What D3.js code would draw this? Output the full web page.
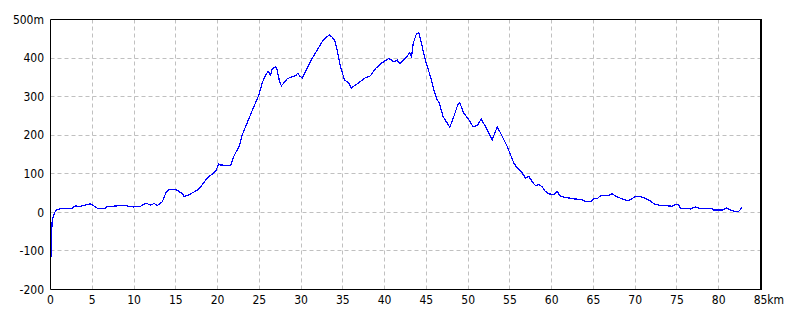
<!DOCTYPE html>
<html>
<head>
<meta charset="utf-8">
<script src="https://cdn.jsdelivr.net/npm/d3@7"></script>
<style>
  body { margin: 0; background: #fff; }
  text { font-family: "Liberation Sans Narrow", "DejaVu Sans Condensed", "Liberation Sans", sans-serif; font-size: 12px; fill: #000; }
</style>
</head>
<body>
<svg id="chart" width="800" height="320"></svg>
<script>
// distance along route (km) and elevation (m)
const distKm = [
  0.05, 0.1, 0.2, 0.45, 0.7, 1.4, 2.6, 3.0, 3.5, 4.0, 4.8, 5.0, 5.6, 6.6, 6.8,
  8.8, 9.9, 10.8, 11.4, 12.0, 12.4, 12.8, 13.4, 13.8, 14.2, 14.8, 15.2, 15.8,
  16.0, 16.5, 17.2, 17.6, 18.0, 18.76, 19.75, 20.15, 20.35, 21.55, 21.94,
  22.66, 22.95, 23.34, 23.94, 24.34, 24.94, 25.34, 25.74, 26.06, 26.34, 26.54,
  26.94, 27.14, 27.42, 27.65, 28.34, 28.94, 29.33, 29.61, 29.81, 30.13, 30.73,
  31.33, 31.93, 32.65, 33.04, 33.4, 33.72, 34.0, 34.32, 34.72, 35.2, 35.71,
  36.0, 36.51, 36.91, 37.71, 38.31, 38.91, 39.71, 40.5, 40.79, 41.1, 41.5,
  41.82, 42.3, 42.7, 43.01, 43.22, 43.42, 43.82, 44.09, 44.5, 44.9, 45.49,
  45.89, 46.29, 46.49, 47.01, 47.8, 48.28, 48.76, 49.0, 49.48, 50.08, 50.6,
  51.08, 51.56, 52.08, 52.88, 53.48, 54.08, 54.67, 55.47, 55.87, 56.47, 56.87,
  57.26, 57.67, 58.06, 58.46, 58.86, 59.26, 59.66, 60.26, 60.66, 61.06, 62.65,
  63.65, 64.05, 64.65, 65.05, 65.45, 65.84,
  66.65, 67.25, 67.84, 68.44, 69.04, 69.44, 70.04, 70.63, 71.23, 71.83, 72.23,
  73.03, 74.43, 74.82, 75.22, 75.42, 76.42, 76.62, 77.22, 77.82, 79.22, 79.41,
  80.41, 80.93, 81.4, 81.8, 82.4, 82.6, 82.8
];
const elevM = [
  -116, -71, -23, -2, 7, 10, 11, 17, 15, 18, 22, 19, 11, 11, 15,
  18, 14, 16, 24, 19, 23, 18, 28, 50, 60, 60, 57, 48,
  41, 45, 53, 58, 67, 89, 106, 126, 123, 121, 145,
  175, 201, 221, 253, 274, 304, 335, 356, 366, 356, 371,
  378, 369, 339, 328, 346, 352, 354, 361, 354, 348, 373,
  399, 421, 447, 454, 460, 454, 447, 421, 378, 343, 336,
  322, 330, 336, 349, 354, 373, 388, 399, 395, 390, 395,
  385, 395, 405, 414, 403, 438, 464, 465, 430, 392, 352,
  317, 291, 287, 248, 221, 248, 279, 284, 257, 240, 222,
  225, 242, 222, 188, 222, 197, 171, 128, 115, 102, 89,
  93, 80, 69, 72, 66, 54, 48, 46, 54, 41, 35,
  33, 28, 28, 35, 35, 43,
  43, 48, 40, 35, 30, 33, 41, 41, 36, 30, 22,
  18, 16, 20, 19, 11, 11, 9, 14, 9, 9, 6,
  6, 11, 6, 3, 3, 7, 14
];
const xTicks = d3.range(0, 86, 5);
const yTicks = d3.range(-200, 501, 100);

const svg = d3.select("#chart");
const x = d3.scaleLinear().domain([0, 85]).range([50.5, 760.5]);
const y = d3.scaleLinear().domain([-200, 500]).range([289.5, 19.5]);

// dashed grid
svg.append("g")
  .selectAll("line")
  .data(xTicks.slice(1, -1))
  .join("line")
  .attr("x1", d => Math.round(x(d) - 0.5) + 0.5)
  .attr("x2", d => Math.round(x(d) - 0.5) + 0.5)
  .attr("y1", y(500)).attr("y2", y(-200))
  .attr("stroke", "#c0c0c0").attr("stroke-dasharray", "4,3");

svg.append("g")
  .selectAll("line")
  .data(yTicks.slice(1, -1))
  .join("line")
  .attr("y1", d => Math.round(y(d) - 0.5) + 0.5)
  .attr("y2", d => Math.round(y(d) - 0.5) + 0.5)
  .attr("x1", x(0)).attr("x2", x(85))
  .attr("stroke", "#c0c0c0").attr("stroke-dasharray", "4,3");

// profile
const line = d3.line()
  .x((d, i) => x(distKm[i]))
  .y(d => y(d));

svg.append("path")
  .datum(elevM)
  .attr("d", line)
  .attr("fill", "none")
  .attr("stroke", "#0000ff")
  .attr("stroke-width", 1.2)
  .attr("shape-rendering", "crispEdges");

// frame
svg.append("line").attr("x1", x(0)).attr("x2", x(85)).attr("y1", y(500)).attr("y2", y(500)).attr("stroke", "#000");
svg.append("line").attr("x1", x(0)).attr("x2", x(85)).attr("y1", y(-200)).attr("y2", y(-200)).attr("stroke", "#000");
svg.append("line").attr("x1", x(0)).attr("x2", x(0)).attr("y1", y(500)).attr("y2", y(-200)).attr("stroke", "#000");
svg.append("line").attr("x1", x(85) + 0.5).attr("x2", x(85) + 0.5).attr("y1", y(500) - 0.5).attr("y2", y(-200) + 0.5)
  .attr("stroke", "#000").attr("stroke-width", 2);

// y labels
svg.append("g")
  .selectAll("text")
  .data(yTicks)
  .join("text")
  .attr("x", 44)
  .attr("y", d => y(d))
  .attr("dy", "0.35em")
  .attr("text-anchor", "end")
  .text(d => d === 500 ? d + "m" : String(d));

// x labels
const xl = svg.append("g")
  .selectAll("text")
  .data(xTicks)
  .join("text")
  .attr("x", d => x(d))
  .attr("y", 300)
  .attr("dy", "0.35em")
  .attr("text-anchor", "middle")
  .text(d => d);

const last = xl.filter(d => d === 85);
const w = last.node().getComputedTextLength();
svg.append("text")
  .attr("x", x(85) + w / 2)
  .attr("y", 300)
  .attr("dy", "0.35em")
  .text("km");
</script>
</body>
</html>
